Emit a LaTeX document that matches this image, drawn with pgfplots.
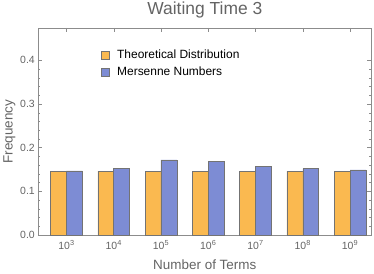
\documentclass[border=0pt]{standalone}
\usepackage{pgfplots}
\pgfplotsset{compat=1.18}
\usepackage{fontspec}
\setmainfont{Liberation Sans}
\definecolor{txt}{RGB}{100,100,100}
\definecolor{axc}{RGB}{140,140,140}
\definecolor{orb}{RGB}{250,185,80}
\definecolor{blb}{RGB}{125,140,212}
\begin{document}
\begin{tikzpicture}
\useasboundingbox (-38.3bp,-39bp) rectangle (335.7bp,235bp);
\begin{axis}[
  anchor=south west, at={(0,0)},
  scale only axis, width=333bp, height=207bp,
  ybar=0pt, bar width=15.8bp,
  xmin=-0.596, xmax=6.45, ymin=0, ymax=0.474,
  xtick={0,1,2,3,4,5,6},
  xticklabels={10\textsuperscript{3},10\textsuperscript{4},10\textsuperscript{5},10\textsuperscript{6},10\textsuperscript{7},10\textsuperscript{8},10\textsuperscript{9}},
  ytick={0,0.1,0.2,0.3,0.4},
  yticklabels={0.0,0.1,0.2,0.3,0.4},
  minor y tick num=4,
  tick align=inside,
  major tick length=4bp, minor tick length=2bp,
  tick style={axc, line width=0.4pt},
  axis line style={axc, line width=0.6pt},
  tick label style={font=\fontsize{10.5}{12}\selectfont, text=txt},
  xticklabel style={yshift=-1.5bp},
  xlabel={Number of Terms}, ylabel={Frequency},
  label style={font=\fontsize{13.5}{15}\selectfont, text=txt},
  xlabel style={yshift=-3.5bp},
  ylabel style={yshift=-2bp},
  title={Waiting Time 3},
  title style={font=\fontsize{17.5}{19}\selectfont, text=txt, yshift=0bp},
  legend style={draw=none, fill=none, at={(0.1785,0.913)}, anchor=north west, font=\fontsize{12}{14}\selectfont, row sep=3bp},
  legend cell align=left,
  legend image code/.code={\draw[#1] (0bp,-4.2bp) rectangle (8.5bp,4.2bp); \path[draw=none,fill=none] (8.5bp,0bp) -- (14bp,0bp);},
]
\addplot[fill=orb, draw=black!55, line width=0.5pt] coordinates {(0,0.146) (1,0.146) (2,0.146) (3,0.146) (4,0.146) (5,0.146) (6,0.146)};
\addplot[fill=blb, draw=black!55, line width=0.5pt] coordinates {(0,0.147) (1,0.152) (2,0.172) (3,0.168) (4,0.157) (5,0.152) (6,0.149)};
\legend{Theoretical Distribution, Mersenne Numbers}
\end{axis}
\end{tikzpicture}
\end{document}
